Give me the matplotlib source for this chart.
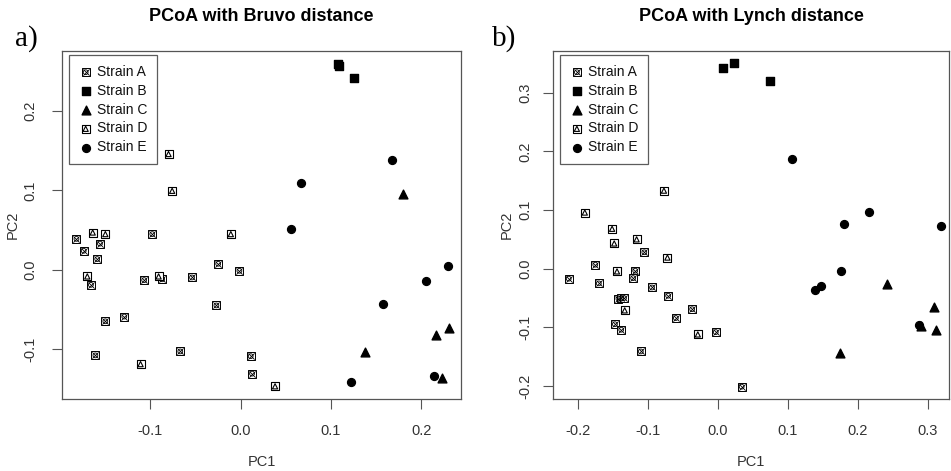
import matplotlib
matplotlib.use('Agg')
import matplotlib.pyplot as plt
from matplotlib.legend_handler import HandlerTuple

plt.rcParams['font.family'] = ['Liberation Sans', 'DejaVu Sans']

strains = ['Strain A', 'Strain B', 'Strain C', 'Strain D', 'Strain E']

# Bruvo distance PCoA (PC1, PC2)
bruvo_a_x = [-0.182, -0.174, -0.156, -0.159, -0.166, -0.098, -0.107, -0.087, -0.054, -0.025, -0.0015,
             -0.150, -0.129, -0.161, -0.067, -0.027, 0.011, 0.0125]
bruvo_a_y = [0.039, 0.024, 0.033, 0.0135, -0.019, 0.045, -0.013, -0.012, -0.0097, 0.0076, -0.0013,
             -0.065, -0.059, -0.108, -0.103, -0.045, -0.109, -0.131]
bruvo_b_x = [0.108, 0.109, 0.125]
bruvo_b_y = [0.260, 0.257, 0.242]
bruvo_c_x = [0.180, 0.138, 0.216, 0.231, 0.223]
bruvo_c_y = [0.096, -0.104, -0.082, -0.073, -0.137]
bruvo_d_x = [-0.080, -0.076, -0.164, -0.150, -0.011, -0.170, -0.091, -0.111, 0.038]
bruvo_d_y = [0.146, 0.0996, 0.047, 0.045, 0.045, -0.0084, -0.0084, -0.119, -0.147]
bruvo_e_x = [0.168, 0.0668, 0.0554, 0.2296, 0.205, 0.157, 0.2137, 0.1225]
bruvo_e_y = [0.138, 0.110, 0.052, 0.0042, -0.0147, -0.043, -0.1345, -0.1416]

# Lynch distance PCoA (PC1, PC2)
lynch_a_x = [-0.105, -0.175, -0.213, -0.170, -0.118, -0.121, -0.094, -0.071, -0.142, -0.138, -0.134,
             -0.0367, -0.060, -0.147, -0.138, -0.003, -0.110, 0.034]
lynch_a_y = [0.028, 0.0068, -0.017, -0.025, -0.0034, -0.016, -0.032, -0.046, -0.051, -0.050, -0.050,
             -0.069, -0.084, -0.0946, -0.104, -0.108, -0.141, -0.201]
lynch_b_x = [0.008, 0.0237, 0.0743]
lynch_b_y = [0.342, 0.350, 0.320]
lynch_c_x = [0.2414, 0.3086, 0.311, 0.290, 0.175]
lynch_c_y = [-0.0256, -0.065, -0.104, -0.0974, -0.143]
lynch_d_x = [-0.077, -0.190, -0.151, -0.148, -0.116, -0.072, -0.144, -0.133, -0.0286]
lynch_d_y = [0.133, 0.0957, 0.068, 0.043, 0.050, 0.019, -0.0046, -0.071, -0.112]
lynch_e_x = [0.1057, 0.2157, 0.1804, 0.319, 0.1757, 0.1394, 0.1476, 0.287]
lynch_e_y = [0.187, 0.0974, 0.0764, 0.073, -0.0034, -0.037, -0.030, -0.0957]

grey = '#333333'


def draw_panel(ax, groups, title, tag, tag_x, xlim, ylim, xticks, yticks, ypad, ylab_x):
    handles = []
    (ax_, ay_), (bx, by), (cx, cy), (dx, dy), (ex, ey) = groups
    # Strain A: square with cross and circle
    h1 = ax.scatter(ax_, ay_, marker='s', s=26, facecolors='white', edgecolors='black', linewidths=0.7)
    h2 = ax.scatter(ax_, ay_, marker='x', s=20, c='black', linewidths=0.6)
    h3 = ax.scatter(ax_, ay_, marker='o', s=12, facecolors='none', edgecolors='black', linewidths=0.6)
    handles.append((h1, h2, h3))
    handles.append(ax.scatter(bx, by, marker='s', s=26, c='black'))
    handles.append(ax.scatter(cx, cy, marker='^', s=40, c='black'))
    # Strain D: square with triangle
    h4 = ax.scatter(dx, dy, marker='s', s=28, facecolors='white', edgecolors='black', linewidths=0.8)
    h5 = ax.scatter(dx, dy, marker='^', s=14, facecolors='none', edgecolors='black', linewidths=0.8)
    handles.append((h4, h5))
    handles.append(ax.scatter(ex, ey, marker='o', s=32, c='black'))

    ax.set_xlim(*xlim)
    ax.set_ylim(*ylim)
    ax.set_xticks(xticks)
    ax.set_yticks(yticks)
    ax.set_xticklabels(['%.1f' % v for v in xticks])
    ax.set_yticklabels(['%.1f' % v for v in yticks], rotation=90, va='center')
    ax.tick_params(direction='out', length=7, width=0.8, colors='#555555', labelcolor=grey,
                   labelsize=10.5)
    ax.tick_params(axis='x', pad=11)
    ax.tick_params(axis='y', pad=ypad)
    for sp in ax.spines.values():
        sp.set_color('#555555')
        sp.set_linewidth(0.9)
    ax.set_xlabel('PC1', fontsize=10.5, color=grey)
    ax.set_ylabel('PC2', fontsize=10.5, color=grey)
    ax.xaxis.set_label_coords(0.5, -0.181)
    ax.xaxis.label.set_va('center')
    ax.yaxis.set_label_coords(ylab_x, 0.5)
    ax.yaxis.label.set_va('center')
    ax.text(0.5, 1.0977, title, transform=ax.transAxes, fontsize=13, fontweight='bold',
            ha='center', va='center')
    ax.text(tag_x, 1.035, tag, transform=ax.transAxes, fontsize=21,
            family='Liberation Serif', va='center')
    leg = ax.legend(handles, strains, loc='upper left', bbox_to_anchor=(0.0175, 0.988),
                    fontsize=10, handler_map={tuple: HandlerTuple(ndivide=1, pad=0)},
                    frameon=True, fancybox=False, edgecolor='#333333',
                    borderaxespad=0, handletextpad=0.3, labelspacing=0.35,
                    handlelength=1.0, borderpad=0.7)
    leg.get_frame().set_linewidth(0.9)
    for t in leg.get_texts():
        t.set_color('#111111')


fig = plt.figure(figsize=(9.51, 4.71), dpi=100)
ax1 = fig.add_axes([0.0652, 0.1529, 0.4196, 0.7389])
ax2 = fig.add_axes([0.5818, 0.1529, 0.4160, 0.7389])

draw_panel(ax1,
           [(bruvo_a_x, bruvo_a_y), (bruvo_b_x, bruvo_b_y), (bruvo_c_x, bruvo_c_y),
            (bruvo_d_x, bruvo_d_y), (bruvo_e_x, bruvo_e_y)],
           'PCoA with Bruvo distance', 'a)', -0.118,
           (-0.198, 0.244), (-0.163, 0.276), [-0.1, 0.0, 0.1, 0.2], [-0.1, 0.0, 0.1, 0.2],
           10.4, -0.123)
draw_panel(ax2,
           [(lynch_a_x, lynch_a_y), (lynch_b_x, lynch_b_y), (lynch_c_x, lynch_c_y),
            (lynch_d_x, lynch_d_y), (lynch_e_x, lynch_e_y)],
           'PCoA with Lynch distance', 'b)', -0.154,
           (-0.235, 0.330), (-0.222, 0.371), [-0.2, -0.1, 0.0, 0.1, 0.2, 0.3],
           [-0.2, -0.1, 0.0, 0.1, 0.2, 0.3], 8.3, -0.118)

fig.savefig('out.png', dpi=100)
